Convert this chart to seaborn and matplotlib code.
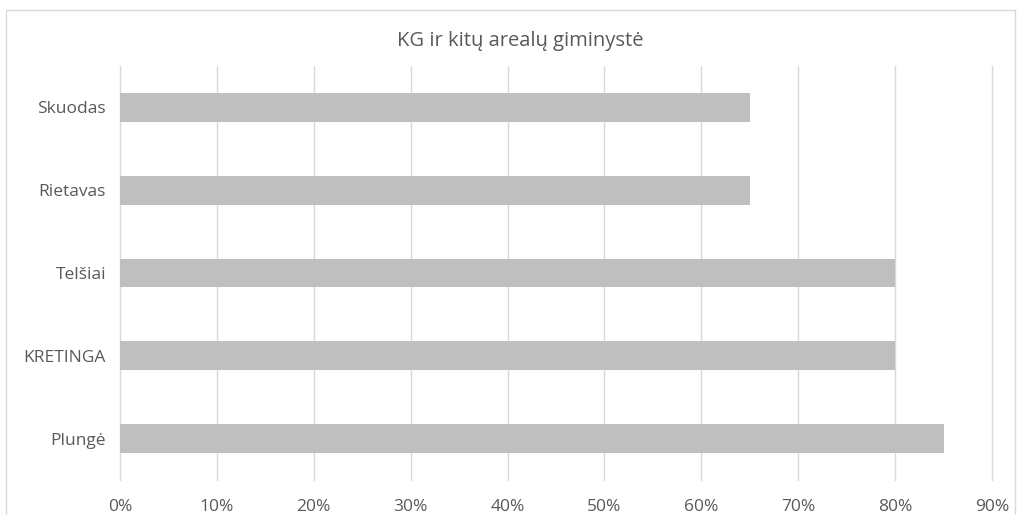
import matplotlib
matplotlib.use("Agg")
import matplotlib.pyplot as plt
import seaborn as sns
import pandas as pd
from matplotlib.patches import Rectangle
from matplotlib.ticker import PercentFormatter

categories = ["Skuodas", "Rietavas", "Telšiai", "KRETINGA", "Plungė"]
values = [0.65, 0.65, 0.80, 0.80, 0.85]
xticks = [0, 0.1, 0.2, 0.3, 0.4, 0.5, 0.6, 0.7, 0.8, 0.9]
title = "KG ir kitų arealų giminystė"

sns.set_theme(style="white")
plt.rcParams['font.family'] = ['Open Sans', 'DejaVu Sans']

W, H = 1021, 515
fig = plt.figure(figsize=(W / 100, H / 100), dpi=100)
fig.patch.set_facecolor("white")
fig.add_artist(Rectangle((6 / W, -0.05), (1015 - 6) / W, (H - 10) / H + 0.05, transform=fig.transFigure,
                         fill=False, edgecolor="#d9d9d9", linewidth=1.0))

ax = fig.add_axes([120 / W, 35 / H, (992 - 120) / W, (480 - 66) / H])
df = pd.DataFrame({"cat": categories, "val": values})
sns.barplot(data=df, x="val", y="cat", orient="h", color="#bfbfbf", width=0.35,
            saturation=1, ax=ax, zorder=3)
for p in ax.patches:
    p.set_edgecolor("none")

ax.set_xlim(0, 0.9)
ax.set_ylim(4.5, -0.5)
ax.set_xticks(xticks)
ax.xaxis.set_major_formatter(PercentFormatter(1.0, decimals=0))
ax.grid(axis="x", color="#d9d9d9", linewidth=1.0, zorder=0)
ax.grid(axis="y", visible=False)
for gl in ax.get_xgridlines():
    gl.set_clip_on(False)
for s in ax.spines.values():
    s.set_visible(False)
ax.set_xlabel("")
ax.set_ylabel("")
ax.tick_params(axis="both", length=0, labelsize=12.5, labelcolor="#595959")
ax.tick_params(axis="x", pad=14)
ax.tick_params(axis="y", pad=10)
fig.text(520 / W, 1 - 41 / H, title, ha="center", va="center", fontsize=14.5, color="#595959")

fig.savefig("out.png", dpi=100)
